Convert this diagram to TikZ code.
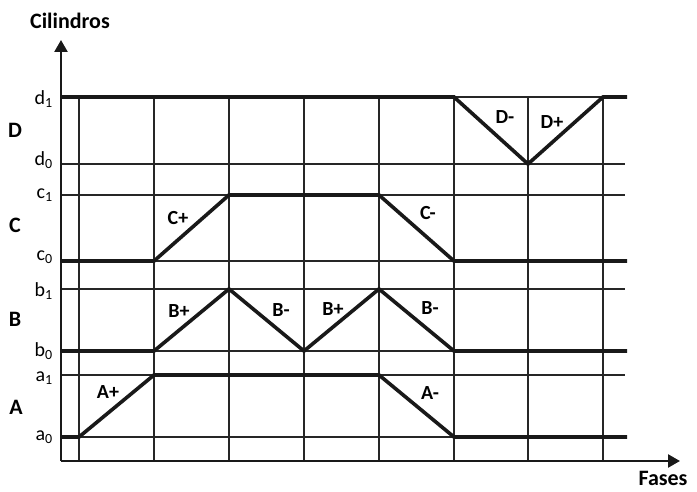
\documentclass[tikz,border=0pt]{standalone}
\usepackage{fontspec}
\setmainfont{Carlito}
\usetikzlibrary{arrows.meta}
\begin{document}
\begin{tikzpicture}[x=1pt,y=-1pt,
  grid/.style={line width=1.1pt,black!85},
  sig/.style={line width=3.6pt,black!90,line join=miter},
  axis/.style={line width=2.4pt,black!90,-{Triangle[length=12pt,width=13pt]}},
  lab/.style={font=\fontsize{20}{20}\selectfont\bfseries,inner sep=0pt},
  lvl/.style={font=\fontsize{20}{20}\selectfont,inner sep=0pt,anchor=east},
  cyl/.style={font=\fontsize{22}{22}\selectfont\bfseries,inner sep=0pt},
  ttl/.style={font=\fontsize{22}{22}\selectfont\bfseries,inner sep=0pt}]
\useasboundingbox (0,0) rectangle (697,492);
% horizontal grid
\foreach \y in {97,164,195,261,289,351,375,437}
  \draw[grid] (61,\y) -- (625,\y);
% vertical grid
\foreach \x in {79,154,229,304,379,454,528,603}
  \draw[grid] (\x,97) -- (\x,461);
% axes
\coordinate (o) at (61,461);
\coordinate (ytip) at (61,40);
\coordinate (xtip) at (680,461);
\draw[axis] (o) -- (ytip);
\draw[axis] (o) -- (xtip);
% signals
\draw[sig] (61,97) -- (454,97) -- (528,164) -- (603,97) -- (627,97);
\draw[sig] (61,261) -- (154,261) -- (229,195) -- (379,195) -- (454,261) -- (627,261);
\draw[sig] (61,351) -- (154,351) -- (229,289) -- (304,351) -- (379,289) -- (454,351) -- (627,351);
\draw[sig] (61,437) -- (79,437) -- (154,375) -- (379,375) -- (454,437) -- (627,437);
% titles
\node[ttl] (tc) at (70,21) {Cilindros};
\node[ttl] (tf) at (663,478) {Fases};
% level labels
\node[lvl] (d1) at (53,99) {d\textsubscript{1}};
\node[lvl] (d0) at (53,160) {d\textsubscript{0}};
\node[lvl] (c1) at (53,195) {c\textsubscript{1}};
\node[lvl] (c0) at (53,257) {c\textsubscript{0}};
\node[lvl] (b1) at (53,291) {b\textsubscript{1}};
\node[lvl] (b0) at (53,351) {b\textsubscript{0}};
\node[lvl] (a1) at (53,378) {a\textsubscript{1}};
\node[lvl] (a0) at (53,437) {a\textsubscript{0}};
% cylinder labels
\node[cyl] (D) at (15,130) {D};
\node[cyl] (C) at (15,225) {C};
\node[cyl] (B) at (15,319) {B};
\node[cyl] (A) at (16,407) {A};
% transition labels
\node[lab] (cp) at (178,218) {C+};
\node[lab] (cm) at (428,213) {C-};
\node[lab] (bp1) at (179,311) {B+};
\node[lab] (bm1) at (281,310) {B-};
\node[lab] (bp2) at (333,309) {B+};
\node[lab] (bm2) at (430,308) {B-};
\node[lab] (ap) at (108,392) {A+};
\node[lab] (am) at (430,393) {A-};
\node[lab] (dm) at (505,117) {D-};
\node[lab] (dp) at (552,122) {D+};
\end{tikzpicture}
\end{document}
